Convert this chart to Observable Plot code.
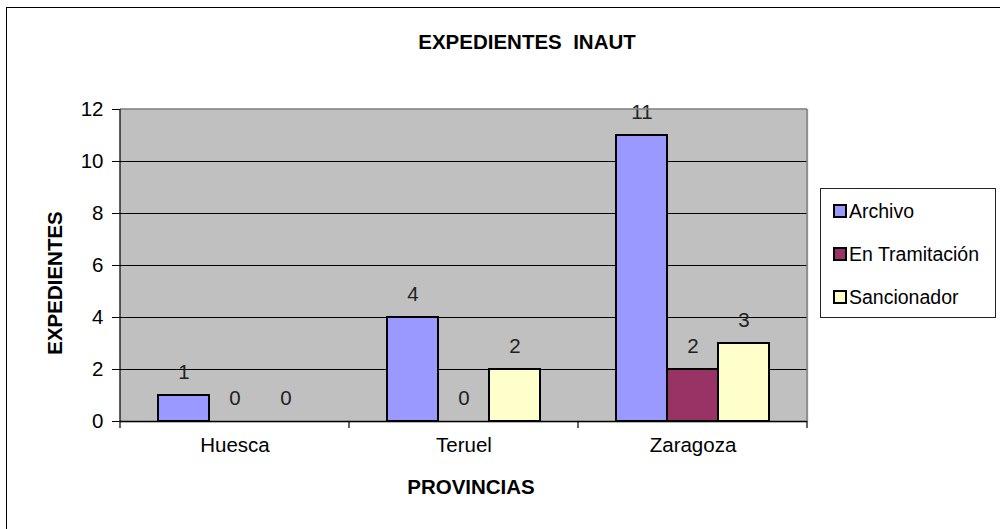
<!DOCTYPE html>
<html>
<head>
<meta charset="utf-8">
<script src="https://cdn.jsdelivr.net/npm/d3@7"></script>
<script src="https://cdn.jsdelivr.net/npm/@observablehq/plot@0.6"></script>
<style>
  html, body { margin: 0; padding: 0; background: #fff; }
  #wrap { position: relative; width: 1000px; height: 529px; overflow: hidden; font-family: "Liberation Sans", Arial, sans-serif; color: #000; }
  #frame { position: absolute; left: 6px; top: 6.5px; width: 1100px; height: 700px; border: 1.5px solid #000; box-sizing: border-box; }
  #chart { position: absolute; left: 0; top: 0; }
  .lbl { position: absolute; font-weight: bold; white-space: pre; line-height: 20px; }
  #title { left: 527px; top: 32px; transform: translateX(-50%); font-size: 20.5px; }
  #xlabel { left: 471px; top: 477px; transform: translateX(-50%); font-size: 20.5px; }
  #ylabel { left: 55px; top: 283px; transform: translate(-50%, -50%) rotate(-90deg); font-size: 20.5px; }
  #legend { position: absolute; left: 820px; top: 188px; width: 176px; height: 130px; border: 1px solid #222; box-sizing: border-box; background: #fff; }
  .item { position: absolute; left: 12px; height: 20px; display: flex; align-items: center; font-size: 19.5px; white-space: nowrap; }
  .sw { width: 10px; height: 10px; border: 2px solid #000; margin-right: 2px; flex: none; }
</style>
</head>
<body>
<div id="wrap">
  <div id="frame"></div>
  <div id="chart"></div>
  <div id="title" class="lbl">EXPEDIENTES  INAUT</div>
  <div id="xlabel" class="lbl">PROVINCIAS</div>
  <div id="ylabel" class="lbl">EXPEDIENTES</div>
  <div id="legend"></div>
</div>
<script>
const provinces = ["Huesca", "Teruel", "Zaragoza"];
const seriesNames = ["Archivo", "En Tramitación", "Sancionador"];
const archivo = [1, 4, 11];
const enTramitacion = [0, 0, 2];
const sancionador = [0, 2, 3];
const seriesColors = ["#9999FF", "#993366", "#FFFFCC"];
const yTicks = [0, 2, 4, 6, 8, 10, 12];
const gridValues = [2, 4, 6, 8, 10];

const seriesValues = [archivo, enTramitacion, sancionador];
const data = provinces.flatMap((p, i) =>
  seriesNames.map((s, j) => ({province: p, series: s, value: seriesValues[j][i]}))
);

const chart = Plot.plot({
  width: 1000,
  height: 529,
  marginLeft: 119,
  marginRight: 193,
  marginTop: 109,
  marginBottom: 108,
  style: {fontFamily: "'Liberation Sans', Arial, sans-serif", fontSize: "20.5px", color: "#000", background: "transparent", overflow: "visible"},
  fx: {domain: provinces, padding: 0, label: null, axis: "bottom", tickSize: 0, tickPadding: 16},
  x: {domain: seriesNames, paddingInner: 0, paddingOuter: 0.705, axis: null},
  y: {domain: [0, 12], ticks: yTicks, tickSize: 8, tickPadding: 9, label: null, line: true},
  color: {domain: seriesNames, range: seriesColors},
  marks: [
    Plot.frame({fill: "#C0C0C0", stroke: "#C0C0C0", strokeWidth: 1.5}),
    Plot.ruleY(gridValues, {stroke: "#000", strokeWidth: 1.2}),
    Plot.barY(data.filter(d => d.value > 0), {fx: "province", x: "series", y: "value", fill: "series", stroke: "#000", strokeWidth: 2}),
    Plot.ruleY([0], {stroke: "#000", strokeWidth: 1.5}),
    Plot.text(data, {fx: "province", x: "series", y: "value", text: d => String(d.value), dy: -23, fontSize: 20.5, fill: "#222"})
  ]
});
document.getElementById("chart").appendChild(chart);

// Plot-area border (top/right, gray) and category boundary ticks, from the scales
const fx = chart.scale("fx");
const ys = chart.scale("y");
const x0 = fx.apply(provinces[0]);
const x1 = fx.apply(provinces[provinces.length - 1]) + fx.bandwidth;
const yTop = ys.apply(12), yBot = ys.apply(0);
const svg = d3.select(chart);
const g = svg.append("g");
g.append("line").attr("x1", x0).attr("x2", x1).attr("y1", yTop).attr("y2", yTop).attr("stroke", "#808080").attr("stroke-width", 1.5);
g.append("line").attr("x1", x1).attr("x2", x1).attr("y1", yTop).attr("y2", yBot).attr("stroke", "#808080").attr("stroke-width", 1.5);
g.append("line").attr("x1", x0).attr("x2", x0).attr("y1", yTop).attr("y2", yBot).attr("stroke", "#000").attr("stroke-width", 1.2);
const bounds = provinces.map(p => fx.apply(p)).concat([x1]);
g.selectAll("line.tk").data(bounds).join("line").attr("class", "tk")
  .attr("x1", d => d).attr("x2", d => d).attr("y1", yBot).attr("y2", yBot + 7)
  .attr("stroke", "#000").attr("stroke-width", 1.2);

// Legend
const legend = document.getElementById("legend");
const rowTops = [12, 55, 98];
seriesNames.forEach((s, i) => {
  const item = document.createElement("div");
  item.className = "item";
  item.style.top = rowTops[i] + "px";
  const sw = document.createElement("span");
  sw.className = "sw";
  sw.style.background = seriesColors[i];
  item.appendChild(sw);
  item.appendChild(document.createTextNode(s));
  legend.appendChild(item);
});
</script>
</body>
</html>
